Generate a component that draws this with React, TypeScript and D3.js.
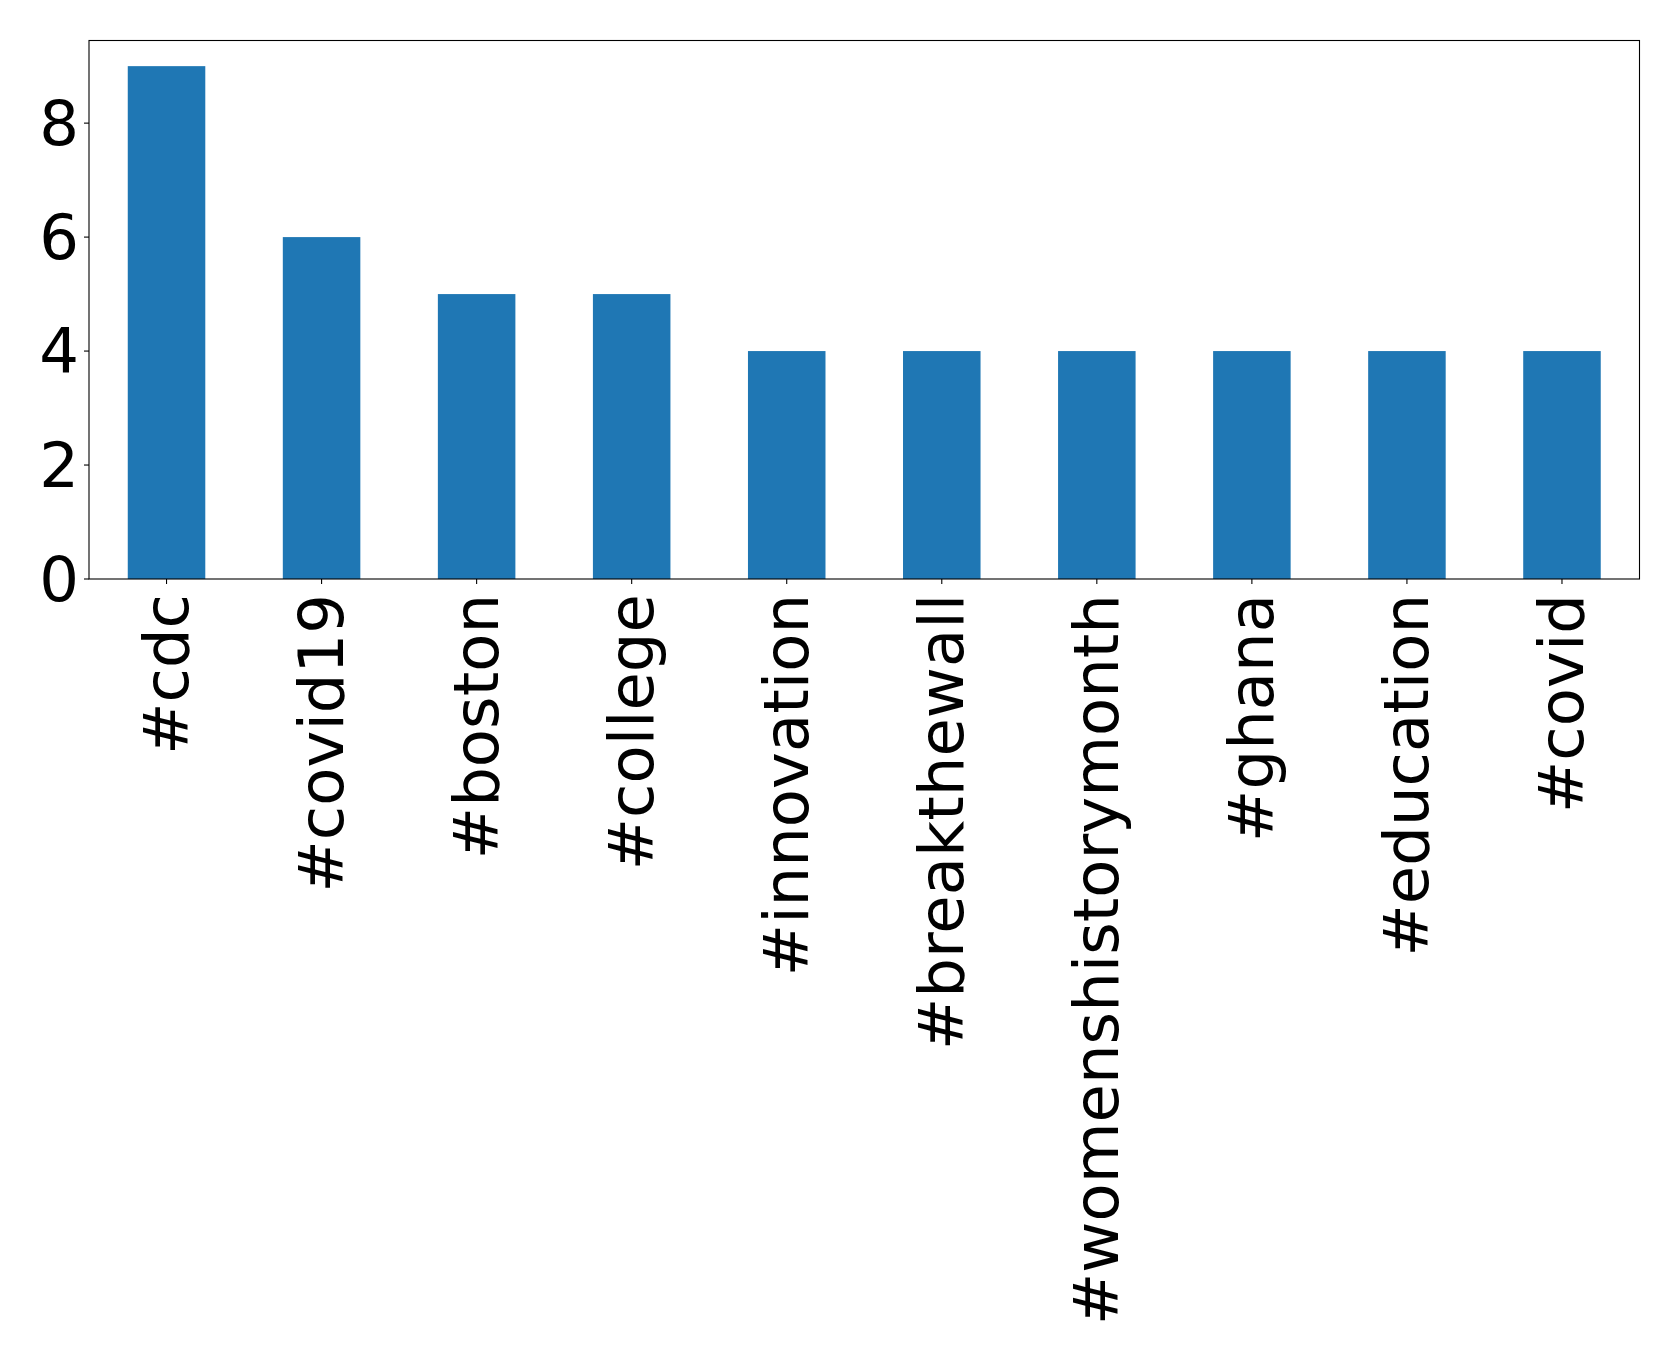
import React from "react";
import * as d3 from "d3";

const categories = ["#cdc", "#covid19", "#boston", "#college", "#innovation", "#breakthewall", "#womenshistorymonth", "#ghana", "#education", "#covid"];
const counts = [9, 6, 5, 5, 4, 4, 4, 4, 4, 4];
const yTicks = [0, 2, 4, 6, 8];

const W = 1679;
const H = 1359;
const left = 89;
const right = 1639.5;
const top = 40.5;
const bottom = 579;
const fontSize = 62.5;
const font = "DejaVu Sans";

export default function App() {
  const x = d3.scaleLinear().domain([-0.5, categories.length - 0.5]).range([left, right]);
  const y = d3.scaleLinear().domain([0, 9.45]).range([bottom, top]);
  const barW = x(0.25) - x(-0.25);
  return (
    <svg width={W} height={H} style={{ position: "absolute", left: 0, top: 0 }} fontFamily={font}>
      <rect x={0} y={0} width={W} height={H} fill="white" />
      {categories.map((c, i) => (
        <rect key={c} x={x(i) - barW / 2} y={y(counts[i])} width={barW} height={y(0) - y(counts[i])} fill="#1f77b4" />
      ))}
      <rect x={left} y={top} width={right - left} height={bottom - top} fill="none" stroke="black" strokeWidth={1.1} />
      {yTicks.map((t) => (
        <g key={t}>
          <line x1={left - 5} x2={left} y1={y(t)} y2={y(t)} stroke="black" strokeWidth={1.1} />
          <text x={left - 10} y={y(t)} textAnchor="end" dominantBaseline="central" fontSize={fontSize}>{t}</text>
        </g>
      ))}
      {categories.map((c, i) => (
        <g key={c}>
          <line x1={x(i)} x2={x(i)} y1={bottom} y2={bottom + 5} stroke="black" strokeWidth={1.1} />
          <text transform={`translate(${x(i)},${bottom + 15}) rotate(-90)`} textAnchor="end" dominantBaseline="central" fontSize={fontSize}>{c}</text>
        </g>
      ))}
    </svg>
  );
}
